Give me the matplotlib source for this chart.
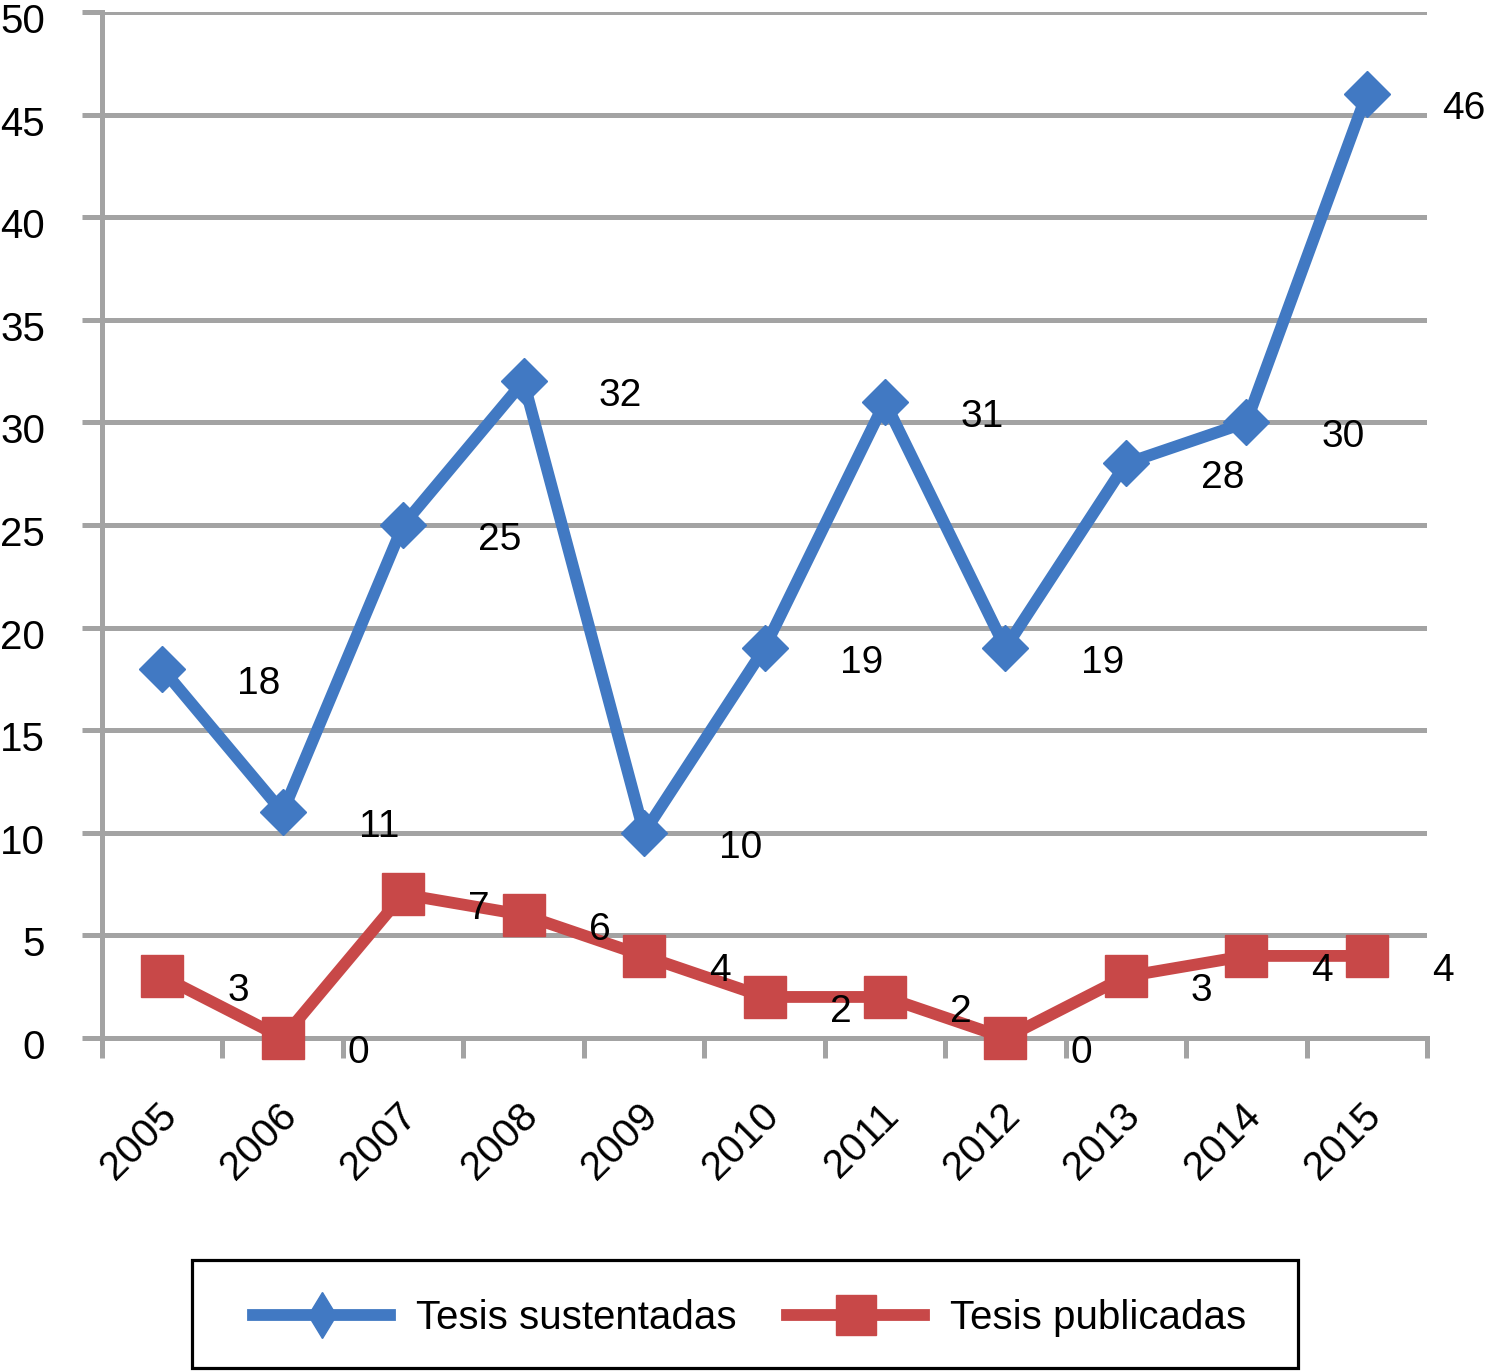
import matplotlib
matplotlib.use("Agg")
import matplotlib.pyplot as plt
import matplotlib.transforms as mtransforms
from matplotlib.lines import Line2D
from matplotlib.patches import Rectangle
import numpy as np

plt.rcParams['font.family'] = ['Liberation Sans', 'DejaVu Sans']

years = ["2005", "2006", "2007", "2008", "2009", "2010", "2011", "2012", "2013", "2014", "2015"]
sustentadas = [18, 11, 25, 32, 10, 19, 31, 19, 28, 30, 46]
publicadas = [3, 0, 7, 6, 4, 2, 2, 0, 3, 4, 4]
yticks = [0, 5, 10, 15, 20, 25, 30, 35, 40, 45, 50]
series_names = ["Tesis sustentadas", "Tesis publicadas"]

blue = '#4179C3'
red = '#C84848'
gray = '#a3a3a3'

W, H = 1489, 1371
fig = plt.figure(figsize=(W / 100, H / 100), dpi=100)
ax = fig.add_axes([102 / W, (H - 1038) / H, (1427 - 102) / W, (1038 - 12) / H])

x = np.arange(len(years))
ax.set_xlim(-0.5, len(years) - 0.5)
ax.set_ylim(0, 50)

ax.plot(x, publicadas, color=red, lw=8.5, marker='s', ms=30, mec=red, mew=1,
        zorder=3, clip_on=False)
ax.plot(x, sustentadas, color=blue, lw=8.5, marker='D', ms=23, mec=blue, mew=1,
        zorder=4, clip_on=False)

for i, v in enumerate(sustentadas):
    ax.annotate(str(v), (x[i], v), xytext=(69.8, -18), textcoords='offset points',
                ha='center', va='baseline', fontsize=28, zorder=6)
for i, v in enumerate(publicadas):
    ax.annotate(str(v), (x[i], v), xytext=(54.7, -18), textcoords='offset points',
                ha='center', va='baseline', fontsize=28, zorder=6)

# grid and spines
ax.set_axisbelow(True)
ax.grid(axis='y', color=gray, lw=3.6)
ax.grid(axis='x', visible=False)
for s in ['top', 'right']:
    ax.spines[s].set_visible(False)
for s in ['left', 'bottom']:
    ax.spines[s].set_color(gray)
    ax.spines[s].set_linewidth(3.6)

# y ticks
ax.set_yticks(yticks)
ax.set_yticklabels([str(t) for t in yticks])
ax.tick_params(axis='y', length=14.4, width=3.6, color=gray, pad=26.6, labelsize=29)

# x ticks: labels at categories, tick marks at boundaries
ax.set_xticks(x)
ax.set_xticklabels(years, rotation=45, ha='right', va='center', rotation_mode='anchor')
ax.tick_params(axis='x', which='major', length=0, pad=51.8, labelsize=29)
ax.set_xticks(np.arange(-0.5, len(years), 1), minor=True)
ax.tick_params(axis='x', which='minor', length=14.4, width=3.6, color=gray, direction='out')

fig.canvas.draw()
offx = mtransforms.ScaledTranslation(8 / 100, 0, fig.dpi_scale_trans)
for lab in ax.xaxis.get_majorticklabels():
    lab.set_transform(lab.get_transform() + offx)
offy = mtransforms.ScaledTranslation(0, -6 / 100, fig.dpi_scale_trans)
for lab in ax.yaxis.get_majorticklabels():
    lab.set_transform(lab.get_transform() + offy)

# legend
handles = [
    Line2D([], [], color=blue, lw=8.5, marker='d', ms=23, mec=blue),
    Line2D([], [], color=red, lw=8.5, marker='s', ms=29, mec=red),
]
fig.legend(handles, series_names, loc='center', bbox_to_anchor=(750 / W, 1 - 1318 / H),
           ncol=2, frameon=False, fontsize=29, handlelength=3.4, handletextpad=0.65,
           columnspacing=1.25, borderpad=0, numpoints=1)
fig.patches.append(Rectangle((192 / W, (H - 1368) / H), 1106 / W, 108 / H,
                             transform=fig.transFigure, fill=False, edgecolor='black',
                             lw=2.3, zorder=10))

fig.savefig('out.png', dpi=100)
